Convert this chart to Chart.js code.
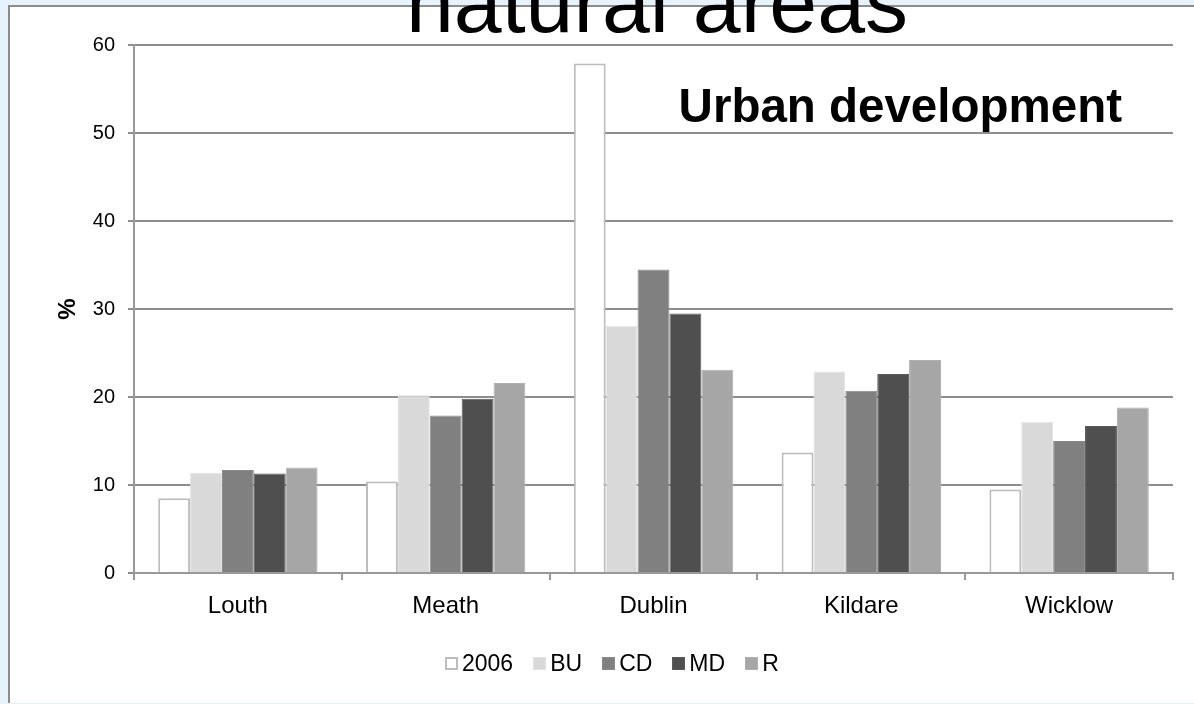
<!DOCTYPE html>
<html>
<head>
<meta charset="utf-8">
<script src="https://cdn.jsdelivr.net/npm/chart.js@4.4.1/dist/chart.umd.min.js"></script>
<style>
  html, body { margin: 0; padding: 0; width: 1194px; height: 704px; overflow: hidden;
               background: #e7f3fc; font-family: "Liberation Sans", Arial, sans-serif; }
  #panel { position: absolute; left: 8px; top: 5px; width: 1200px; height: 696px;
           background: #fff; border-left: 2px solid #8c8c8c; border-top: 2px solid #8c8c8c; }
  #wrap { position: absolute; left: 0; top: 0; width: 1194px; height: 704px; }
  #legend { position: absolute; left: 445px; top: 649px; height: 28px; display: flex;
            align-items: center; font-size: 23px; color: #000; white-space: nowrap; }
  #legend .item { display: flex; align-items: center; margin-right: 20px; }
  #legend .box { width: 13px; height: 13px; margin-right: 4px; box-sizing: border-box; }
</style>
</head>
<body>
<div id="panel"></div>
<div id="wrap"><canvas id="chart"></canvas></div>
<div id="legend"></div>
<script>
// Counties and tick values
const counties = ['Louth', 'Meath', 'Dublin', 'Kildare', 'Wicklow'];
const yTicks = [0, 10, 20, 30, 40, 50, 60];

// Share of urban development (%) per county, by series
const series2006 = [8.5, 10.4, 57.9, 13.7, 9.5];
const seriesBU   = [11.4, 20.2, 28.1, 22.9, 17.2];
const seriesCD   = [11.7, 17.9, 34.5, 20.7, 15.0];
const seriesMD   = [11.3, 19.8, 29.5, 22.6, 16.7];
const seriesR    = [12.0, 21.6, 23.1, 24.2, 18.8];

const seriesNames = ['2006', 'BU', 'CD', 'MD', 'R'];
const headingText = 'natural areas';
const insetText = 'Urban development';
const axisTitle = '%';

const FONT = '"Liberation Sans", Arial, sans-serif';

const styles = [
  { fill: '#ffffff', edge: '#bdbdbd', width: 2 },
  { fill: '#d9d9d9', edge: '#e2e2e2', width: 1 },
  { fill: '#808080', edge: '#8a8a8a', width: 1 },
  { fill: '#4f4f4f', edge: '#5a5a5a', width: 1 },
  { fill: '#a6a6a6', edge: '#b0b0b0', width: 1 }
];
const values = [series2006, seriesBU, seriesCD, seriesMD, seriesR];

const datasets = seriesNames.map((name, i) => ({
  label: name,
  data: values[i],
  backgroundColor: styles[i].fill,
  borderColor: styles[i].edge,
  borderWidth: styles[i].width,
  borderSkipped: 'start',
  categoryPercentage: 0.767,
  barPercentage: 1.0
}));

// Heading and inset caption
const captionPlugin = {
  id: 'captions',
  afterDraw(chart) {
    const ctx = chart.ctx;
    const area = chart.chartArea;
    ctx.save();
    ctx.fillStyle = '#000';
    ctx.textBaseline = 'alphabetic';
    ctx.font = '86px ' + FONT;
    ctx.textAlign = 'center';
    ctx.fillText(headingText, 657, 32);
    ctx.font = 'bold 47.5px ' + FONT;
    ctx.textAlign = 'right';
    ctx.fillText(insetText, area.right - 51, 122);
    ctx.restore();
  }
};

// Legend rendered as HTML from the chart's datasets
const htmlLegend = {
  id: 'htmlLegend',
  afterUpdate(chart) {
    const el = document.getElementById('legend');
    el.innerHTML = '';
    chart.data.datasets.forEach(ds => {
      const item = document.createElement('div');
      item.className = 'item';
      const box = document.createElement('span');
      box.className = 'box';
      box.style.background = ds.backgroundColor;
      box.style.border = ds.borderWidth + 'px solid ' + ds.borderColor;
      const txt = document.createElement('span');
      txt.textContent = ds.label;
      item.appendChild(box);
      item.appendChild(txt);
      el.appendChild(item);
    });
  }
};

new Chart(document.getElementById('chart'), {
  type: 'bar',
  data: { labels: counties, datasets },
  options: {
    responsive: true,
    maintainAspectRatio: false,
    animation: false,
    layout: { padding: { top: 45, right: 21, bottom: 71, left: 0 } },
    plugins: {
      legend: { display: false },
      title: { display: false },
      tooltip: { enabled: false }
    },
    scales: {
      x: {
        offset: true,
        grid: { offset: true, drawOnChartArea: false, drawTicks: true, tickLength: 7,
                color: '#999999', lineWidth: 2 },
        border: { display: true, color: '#999999', width: 2 },
        ticks: { color: '#000', font: { family: FONT, size: 24 }, padding: 12 },
        afterFit(s) { s.height = 60; }
      },
      y: {
        min: yTicks[0],
        max: yTicks[yTicks.length - 1],
        afterBuildTicks(s) { s.ticks = yTicks.map(v => ({ value: v })); },
        grid: { color: '#8e8e8e', lineWidth: 2, drawTicks: true, tickLength: 6 },
        border: { display: true, color: '#999999', width: 2 },
        ticks: { color: '#000', font: { family: FONT, size: 20 }, padding: 13 },
        title: { display: true, text: axisTitle, color: '#000',
                 font: { family: FONT, size: 24, weight: 'bold' },
                 padding: { top: 54, bottom: 0 } },
        afterFit(s) { s.width = 134; }
      }
    }
  },
  plugins: [captionPlugin, htmlLegend]
});
</script>
</body>
</html>
